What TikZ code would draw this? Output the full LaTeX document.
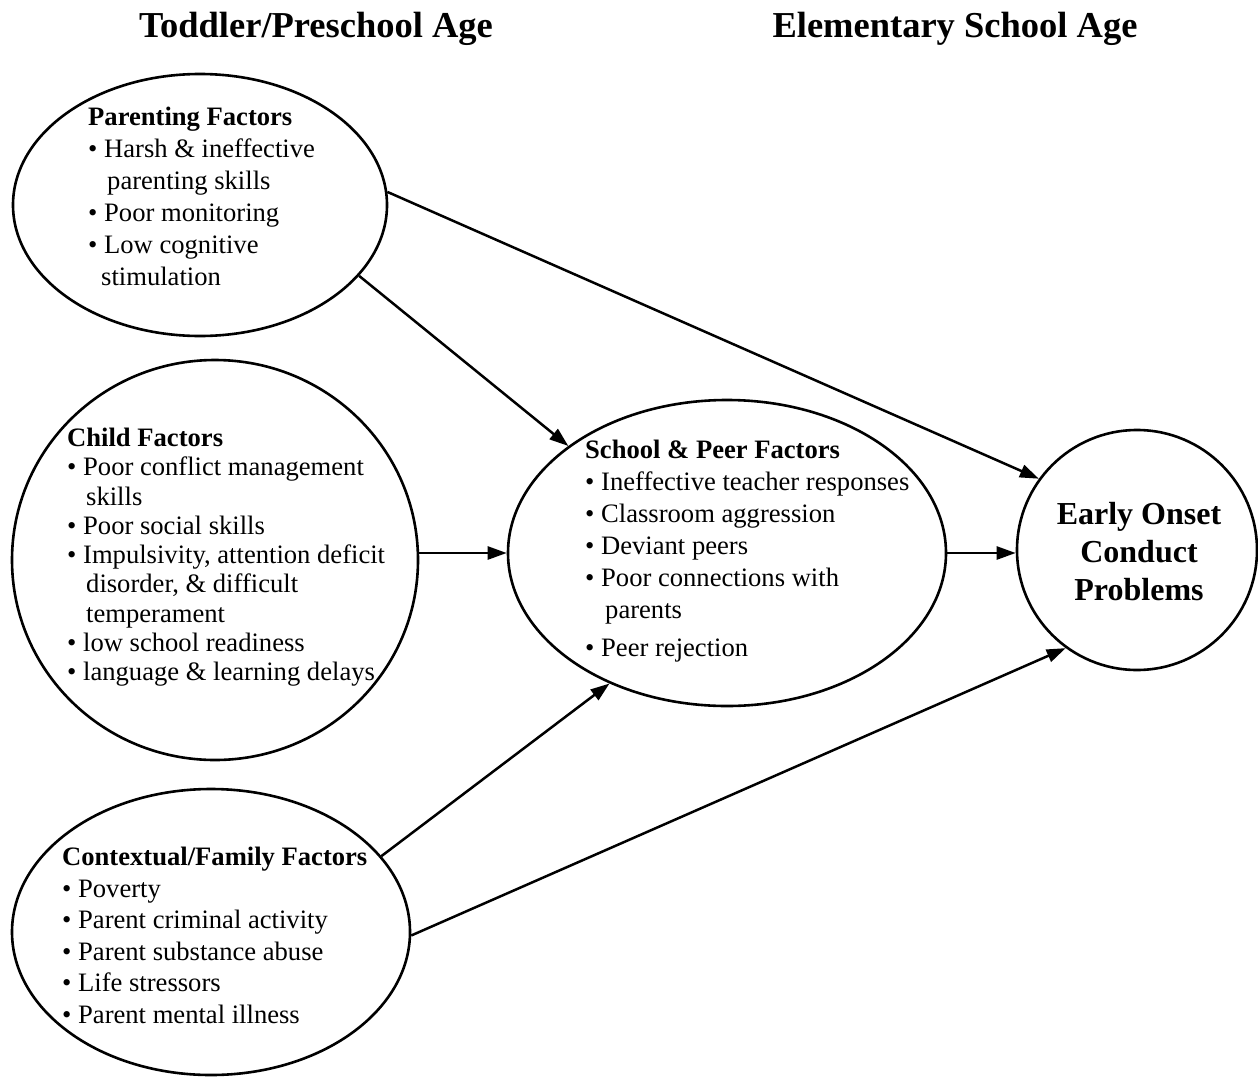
\documentclass[tikz,border=0pt]{standalone}
\usepackage{fontspec}
\setmainfont{Liberation Serif}
\usetikzlibrary{shapes.geometric,arrows.meta}
\begin{document}
\begin{tikzpicture}[x=1pt,y=-1pt,
  oval/.style={draw, line width=2.6pt, ellipse, inner sep=0pt},
  body/.style={anchor=north west, align=left, inner sep=0pt, font=\fontsize{26.6}{32}\selectfont},
  title/.style={anchor=base, inner sep=0pt, font=\fontsize{36.5}{44}\selectfont\bfseries},
  arr/.style={line width=2.5pt, -{Triangle[length=19pt,width=13pt]}}]
\useasboundingbox (0,0) rectangle (1258,1076);
% titles
\node[title] (t1) at (316,37) {Toddler/Preschool Age};
\node[title] (t2) at (955,37) {Elementary School Age};
% ellipses
\node[oval, minimum width=374pt, minimum height=262pt] (par) at (200,205) {};
\node[oval, minimum width=406pt, minimum height=400pt] (child) at (215,560) {};
\node[oval, minimum width=398pt, minimum height=286pt] (ctx) at (211,932) {};
\node[oval, minimum width=438pt, minimum height=306pt] (school) at (727,553) {};
\node[oval, circle, minimum size=240pt] (eo) at (1137,550) {};
% texts
\node[body] (partxt) at (88,107) {\textbf{Parenting Factors}\\• Harsh \& ineffective\\\hspace*{19pt}parenting skills\\• Poor monitoring\\• Low cognitive\\\hspace*{13pt}stimulation};
\node[body, font=\fontsize{26.6}{29.25}\selectfont] (childtxt) at (67,428) {\textbf{Child Factors}\\• Poor conflict management\\\hspace*{19pt}skills\\• Poor social skills\\• Impulsivity, attention deficit\\\hspace*{19pt}disorder, \& difficult\\\hspace*{19pt}temperament\\• low school readiness\\• language \& learning delays};
\node[body] (schooltxt) at (585,440) {\textbf{School \& Peer Factors}\\• Ineffective teacher responses\\• Classroom aggression\\• Deviant peers\\• Poor connections with\\\hspace*{20pt}parents\\[6pt]• Peer rejection};
\node[body, font=\fontsize{26.6}{31.5}\selectfont] (ctxtxt) at (62,847) {\textbf{Contextual/Family Factors}\\• Poverty\\• Parent criminal activity\\• Parent substance abuse\\• Life stressors\\• Parent mental illness};
\node[anchor=north, align=center, inner sep=0pt, font=\fontsize{32}{38}\selectfont\bfseries] (eotxt) at (1139,502) {Early Onset\\Conduct\\Problems};
% arrows
\draw[arr] (par.4) -- (eo.144);
\draw[arr] (par.-24) -- (school.146);
\draw[arr] (school.west -| child.east) -- (school.west);
\draw[arr] (school.east) -- (school.east -| eo.west);
\draw[arr] (ctx.24) -- (school.228.5);
\draw[arr] (ctx.-1) -- (eo.234.6);
\end{tikzpicture}
\end{document}
